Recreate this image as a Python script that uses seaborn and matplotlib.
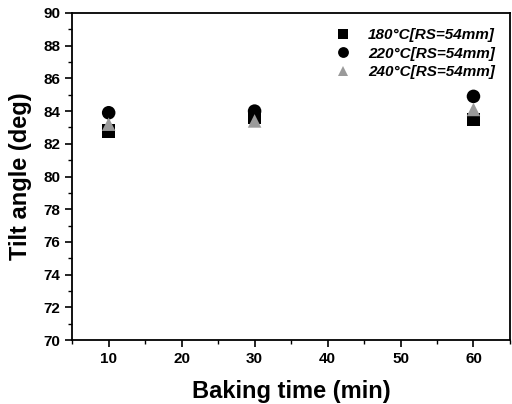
import pandas as pd
import matplotlib
matplotlib.use("Agg")
import matplotlib.pyplot as plt
import seaborn as sns
from matplotlib.ticker import MultipleLocator

times = [10, 30, 60]
series = ["180\u00b0C[RS=54mm]", "220\u00b0C[RS=54mm]", "240\u00b0C[RS=54mm]"]
angle_180 = [82.8, 83.6, 83.5]
angle_220 = [83.9, 84.0, 84.9]
angle_240 = [83.2, 83.4, 84.1]

df = pd.DataFrame({
    "time": times * 3,
    "angle": angle_180 + angle_220 + angle_240,
    "series": [series[0]] * 3 + [series[1]] * 3 + [series[2]] * 3,
})

sns.set_style("ticks", {"axes.edgecolor": "black", "text.color": "black",
                        "xtick.color": "black", "ytick.color": "black",
                        "axes.labelcolor": "black"})
plt.rcParams["font.family"] = ["Liberation Sans", "DejaVu Sans"]
plt.rcParams["font.weight"] = "bold"

fig = plt.figure(figsize=(5.12, 4.04), dpi=100)
ax = fig.add_axes([0.141, 0.158, 0.855, 0.81])

sns.scatterplot(data=df, x="time", y="angle", hue="series", style="series",
                markers={series[0]: "s", series[1]: "o", series[2]: "^"},
                palette={series[0]: "black", series[1]: "black", series[2]: "#9a9a9a"},
                s=95, linewidth=0, ax=ax)

ax.set_xlim(5, 65)
ax.set_ylim(70, 90)
ax.xaxis.set_major_locator(MultipleLocator(10))
ax.xaxis.set_minor_locator(MultipleLocator(5))
ax.yaxis.set_major_locator(MultipleLocator(2))
ax.yaxis.set_minor_locator(MultipleLocator(1))
ax.tick_params(which="major", direction="out", length=5, width=1.2, labelsize=11,
               colors="black")
ax.tick_params(which="minor", direction="out", length=3, width=1.0, colors="black")
for t in ax.get_xticklabels() + ax.get_yticklabels():
    t.set_fontweight("bold")
for sp in ax.spines.values():
    sp.set_linewidth(1.3)
    sp.set_color("black")
    sp.set_visible(True)

ax.set_xlabel("Baking time (min)", fontsize=17, fontweight="bold", labelpad=10,
              color="black")
ax.set_ylabel("Tilt angle (deg)", fontsize=17, fontweight="bold", labelpad=8,
              color="black")

leg = ax.legend(loc="upper right", frameon=False, fontsize=11, markerscale=0.8,
                handletextpad=0.6, borderaxespad=0.6, labelspacing=0.3)
for t in leg.get_texts():
    t.set_fontstyle("italic")
    t.set_fontweight("bold")
    t.set_color("black")

fig.savefig("out.png", dpi=100)
